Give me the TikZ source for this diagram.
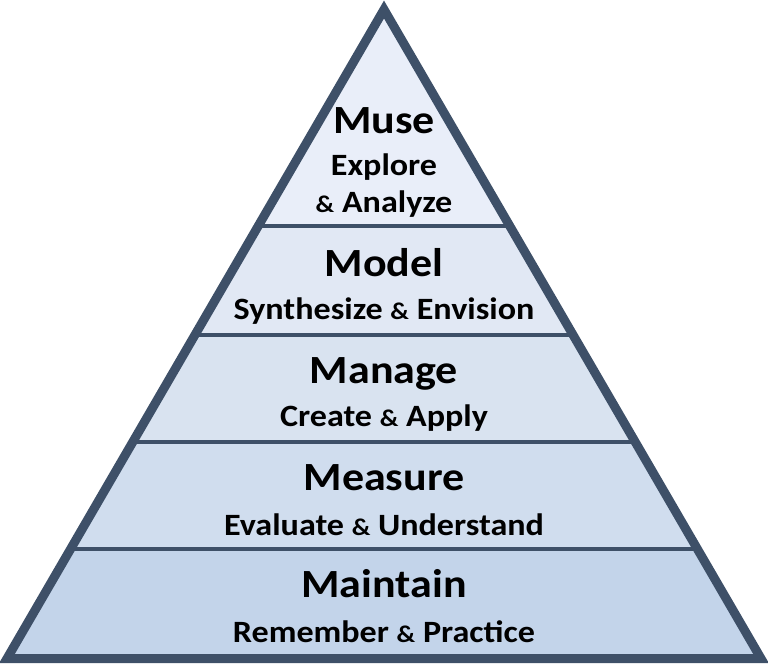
\documentclass[tikz,border=0pt]{standalone}
\usepackage{fontspec}
\setmainfont{Carlito}[FakeStretch=1.1]
\usetikzlibrary{calc}
\definecolor{pyrline}{HTML}{3E5068}
\definecolor{bandA}{HTML}{E9EEF9}
\definecolor{bandB}{HTML}{E1E8F4}
\definecolor{bandC}{HTML}{D9E3F0}
\definecolor{bandD}{HTML}{D0DDEE}
\definecolor{bandE}{HTML}{C3D4EA}
\tikzset{level/.style={anchor=base, inner sep=0pt, font=\fontsize{40}{40}\selectfont\bfseries}}
\tikzset{task/.style={anchor=base, inner sep=0pt, font=\fontsize{31}{31}\selectfont\bfseries}}
\newcommand{\pamp}{{\fontsize{24}{24}\selectfont\&}}

\begin{document}
\begin{tikzpicture}[x=1pt, y=-1pt]
\useasboundingbox (0,0) rectangle (768,671);
\coordinate (apex) at (384,9.5);
\coordinate (bl) at (7,658.5);
\coordinate (br) at (761,658.5);
% bands, top to bottom
\foreach \ya/\yb/\col in {9.5/226/bandA, 226/335/bandB, 335/442/bandC, 442/549/bandD, 549/658.5/bandE}{
  \pgfmathsetmacro{\ta}{(\ya-9.5)/649}
  \pgfmathsetmacro{\tb}{(\yb-9.5)/649}
  \fill[\col] ($(apex)!\ta!(bl)$) -- ($(apex)!\tb!(bl)$) -- ($(apex)!\tb!(br)$) -- ($(apex)!\ta!(br)$) -- cycle;
}
\foreach \y in {226,335,442,549}{
  \pgfmathsetmacro{\t}{(\y-9.5)/649}
  \draw[pyrline, line width=4pt] ($(apex)!\t!(bl)$) -- ($(apex)!\t!(br)$);
}
\draw[pyrline, line width=9pt, line join=miter] (apex) -- (bl) -- (br) -- cycle;
% texts
\node[level] (muse) at (384,134) {Muse};
\node[task] (explore) at (384,176) {Explore};
\node[task] (analyze) at (384,212) {\pamp{} Analyze};
\node[level] (model) at (384,276) {Model};
\node[task] (synth) at (384,319) {Synthesize \pamp{} Envision};
\node[level] (manage) at (384,383) {Manage};
\node[task] (create) at (384,426) {Create \pamp{} Apply};
\node[level] (measure) at (384,490) {Measure};
\node[task] (evaluate) at (384,535) {Evaluate \pamp{} Understand};
\node[level] (maintain) at (384,597) {Maintain};
\node[task] (remember) at (384,642) {Remember \pamp{} Practice};
\end{tikzpicture}
\end{document}
